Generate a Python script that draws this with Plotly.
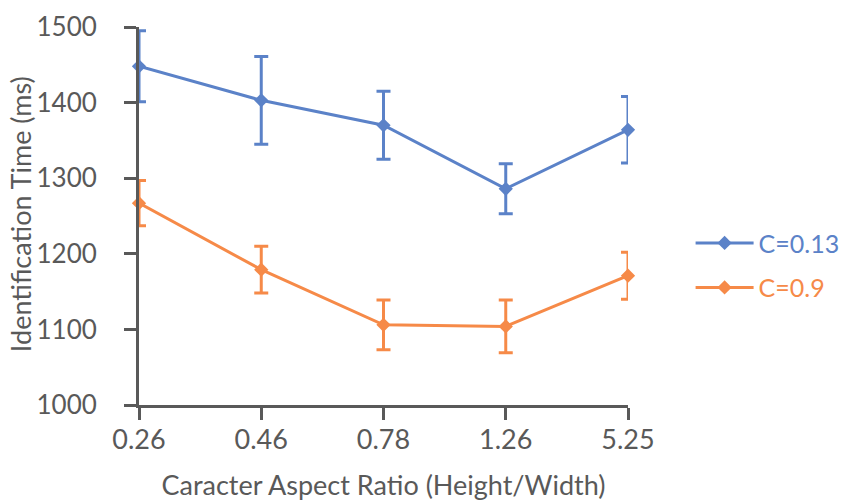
import plotly.graph_objects as go

categories = ["0.26", "0.46", "0.78", "1.26", "5.25"]
c013_values = [1448, 1403, 1370, 1286, 1364]
c013_errors = [47, 58, 45, 33, 44]
c09_values = [1267, 1179, 1106, 1104, 1171]
c09_errors = [30, 31, 33, 35, 31]
y_ticks = [1000, 1100, 1200, 1300, 1400, 1500]

blue = "#5B82C8"
orange = "#F68A48"
axis_col = "#595959"
font = "Lato"

fig = go.Figure()
for i, (name, vals, errs, col) in enumerate([("C=0.13", c013_values, c013_errors, blue),
                                             ("C=0.9", c09_values, c09_errors, orange)]):
    fig.add_trace(go.Scatter(
        x=categories, y=vals, mode="lines+markers",
        name=f"<span style='color:{col}'>{name}</span>",
        legendgroup=f"g{i}",
        line=dict(color=col, width=3),
        marker=dict(symbol="diamond", size=11, color=col),
        error_y=dict(type="data", array=errs, visible=True, color=col, thickness=3, width=7),
        cliponaxis=False,
    ))

fig.update_layout(
    width=843, height=501,
    margin=dict(l=139, r=215, t=27, b=96, autoexpand=False),
    paper_bgcolor="white", plot_bgcolor="white",
    font=dict(family=font, color=axis_col),
    legend=dict(x=1.128, y=0.37, xanchor="left", yanchor="middle",
                font=dict(size=25, family=font), tracegroupgap=9, itemwidth=58,
                bgcolor="rgba(0,0,0,0)"),
    showlegend=True,
    annotations=[dict(text="Identification Time (ms)", textangle=-90,
                      xref="paper", yref="paper", x=-0.2433, y=0.505,
                      xanchor="center", yanchor="middle", showarrow=False,
                      font=dict(size=27, family=font, color=axis_col))],
)
fig.update_xaxes(
    type="category", range=[0, 4], showgrid=False, zeroline=False, automargin=False,
    showline=True, linecolor=axis_col, linewidth=3,
    ticks="outside", ticklen=12, tickwidth=3, tickcolor=axis_col,
    tickfont=dict(size=27, family=font, color=axis_col), ticklabelstandoff=-3,
    title=dict(text="Caracter Aspect Ratio (Height/Width)", font=dict(size=27, family=font, color=axis_col), standoff=24),
)
fig.update_yaxes(
    range=[1000, 1500], tickvals=y_ticks, showgrid=False, zeroline=False, automargin=False,
    showline=True, linecolor=axis_col, linewidth=3,
    ticks="outside", ticklen=12, tickwidth=3, tickcolor=axis_col,
    tickfont=dict(size=26, family=font, color=axis_col), ticklabelstandoff=22,
)

fig.write_html("out.html", post_script="document.body.style.margin='0';",
               config={"displayModeBar": False})
